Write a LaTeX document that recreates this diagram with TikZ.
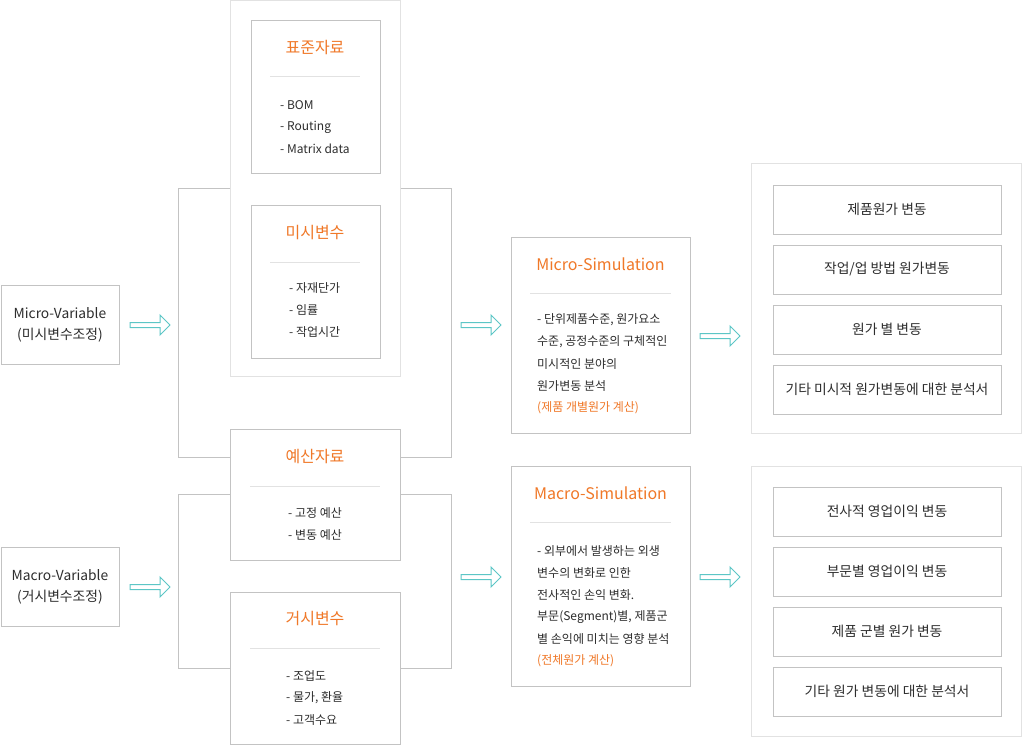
\documentclass[tikz,border=0pt]{standalone}
\usepackage{fontspec}
\setmainfont{Noto Sans CJK KR}
\usetikzlibrary{positioning}
\definecolor{bordergray}{RGB}{195,195,195}
\definecolor{lightgray}{RGB}{226,226,226}
\definecolor{orangetxt}{RGB}{240,120,40}
\definecolor{tealarrow}{RGB}{92,198,198}
\definecolor{bodytxt}{RGB}{45,45,45}
\tikzset{
  gbox/.style={draw=bordergray, line width=1pt, fill=white, inner sep=0pt},
  obox/.style={draw=lightgray, line width=1pt, fill=white, inner sep=0pt},
  sepline/.style={draw=lightgray, line width=1pt},
  link/.style={draw=bordergray, line width=1pt},
  ttl/.style={text=orangetxt, font=\fontsize{16}{19}\selectfont, inner sep=0pt},
  lst/.style={text=bodytxt, font=\fontsize{12}{22}\selectfont, align=left, anchor=west, inner sep=0pt},
  ctxt/.style={text=bodytxt, font=\fontsize{13.8}{21}\selectfont, align=center},
  barrow/.pic={\draw[draw=tealarrow, fill=white, line width=1pt]
     (0,-2.5) -- (30,-2.5) -- (30,-10) -- (40,0) -- (30,10) -- (30,2.5) -- (0,2.5) -- cycle;}
}
\begin{document}
\begin{tikzpicture}[x=1pt,y=-1pt]
\useasboundingbox (0,0) rectangle (1024,746);
% outer light boxes
\node[obox, minimum width=170pt, minimum height=376pt] (stdouter) at (315,188.5) {};
\node[obox, minimum width=270pt, minimum height=269pt] (microout) at (886,298.5) {};
\node[obox, minimum width=270pt, minimum height=270pt] (macroout) at (886,601) {};

% left variable boxes
\node[gbox, ctxt, minimum width=118pt, minimum height=79pt] (microvar) at (60,324.5) {Micro-Variable\\(미시변수조정)};
\node[gbox, ctxt, minimum width=118pt, minimum height=79pt] (macrovar) at (60,586.5) {Macro-Variable\\(거시변수조정)};

% data boxes
\node[gbox, minimum width=129pt, minimum height=153pt] (std) at (315.5,97.5) {};
\node[gbox, minimum width=129pt, minimum height=153pt] (microv) at (315.5,281.5) {};
\node[gbox, minimum width=170pt, minimum height=131pt] (budget) at (315,494.5) {};
\node[gbox, minimum width=170pt, minimum height=152pt] (macrov) at (315,668) {};

\node[ttl] (stdtitle) at (315,48) {표준자료};
\node[ttl] (microvtitle) at (315,233) {미시변수};
\node[ttl] (budtitle) at (315,457) {예산자료};
\node[ttl] (macrovtitle) at (315,619) {거시변수};

\draw[sepline] (270,77) -- (360,77);
\draw[sepline] (270,262) -- (360,262);
\draw[sepline] (250,486) -- (380,486);
\draw[sepline] (250,648) -- (380,648);

\node[lst] (std1) at (280,105) {- BOM};
\node[lst] (std2) at (280,127) {- Routing};
\node[lst] (std3) at (280,149) {- Matrix data};
\node[lst] (mv1) at (289,288) {- 자재단가};
\node[lst] (mv2) at (289,310) {- 임률};
\node[lst] (mv3) at (289,332) {- 작업시간};
\node[lst] (bd1) at (288,513) {- 고정 예산};
\node[lst] (bd2) at (288,535) {- 변동 예산};
\node[lst] (mc1) at (286,676) {- 조업도};
\node[lst] (mc2) at (286,698) {- 물가, 환율};
\node[lst] (mc3) at (286,720) {- 고객수요};

% brackets
\draw[link] (stdouter.west) -- ++(-51,0) |- (budget.west |- budtitle.center);
\draw[link] (stdouter.east) -- ++(51,0) |- (budget.east |- budtitle.center);
\draw[link] (budget.west) -- ++(-51,0) |- (macrov.west);
\draw[link] (budget.east) -- ++(51,0) |- (macrov.east);

% simulation boxes
\node[gbox, minimum width=179pt, minimum height=196pt] (microsim) at (600.5,335) {};
\node[gbox, minimum width=179pt, minimum height=220pt] (macrosim) at (600.5,576) {};
\node[ttl] (microsimtitle) at (600.5,264) {Micro-Simulation};
\node[ttl] (macrosimtitle) at (600.5,493) {Macro-Simulation};
\draw[sepline] (530,293) -- (671,293);
\draw[sepline] (530,522) -- (671,522);

\node[lst] (ms1) at (537,320) {- 단위제품수준, 원가요소};
\node[lst] (ms2) at (537,342) {수준, 공정수준의 구체적인};
\node[lst] (ms3) at (537,364) {미시적인 분야의};
\node[lst] (ms4) at (537,386) {원가변동 분석};
\node[lst, text=orangetxt] (ms5) at (537,408) {(제품 개별원가 계산)};

\node[lst] (as1) at (537,551) {- 외부에서 발생하는 외생};
\node[lst] (as2) at (537,573) {변수의 변화로 인한};
\node[lst] (as3) at (537,595) {전사적인 손익 변화.};
\node[lst] (as4) at (537,617) {부문(Segment)별, 제품군};
\node[lst] (as5) at (537,639) {별 손익에 미치는 영향 분석};
\node[lst, text=orangetxt] (as6) at (537,661) {(전체원가 계산)};

% result boxes
\node[gbox, ctxt, minimum width=228pt, minimum height=49pt] (r1) at (887,209.5) {제품원가 변동};
\node[gbox, ctxt, minimum width=228pt, minimum height=49pt] (r2) at (887,269.5) {작업/업 방법 원가변동};
\node[gbox, ctxt, minimum width=228pt, minimum height=49pt] (r3) at (887,329.5) {원가 별 변동};
\node[gbox, ctxt, minimum width=228pt, minimum height=49pt] (r4) at (887,389.5) {기타 미시적 원가변동에 대한 분석서};
\node[gbox, ctxt, minimum width=228pt, minimum height=49pt] (s1) at (887,511.5) {전사적 영업이익 변동};
\node[gbox, ctxt, minimum width=228pt, minimum height=49pt] (s2) at (887,571.5) {부문별 영업이익 변동};
\node[gbox, ctxt, minimum width=228pt, minimum height=49pt] (s3) at (887,631.5) {제품 군별 원가 변동};
\node[gbox, ctxt, minimum width=228pt, minimum height=49pt] (s4) at (887,691.5) {기타 원가 변동에 대한 분석서};

% arrows
\pic at (130,325) {barrow};
\pic at (130,587) {barrow};
\pic at (461,325) {barrow};
\pic at (461,577) {barrow};
\pic at (700,336) {barrow};
\pic at (700,577) {barrow};
\end{tikzpicture}
\end{document}
